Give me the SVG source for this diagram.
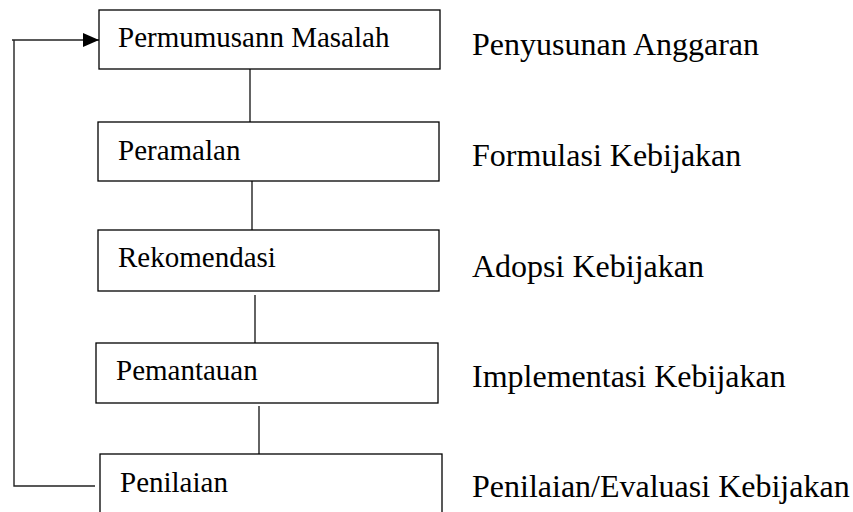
<svg xmlns="http://www.w3.org/2000/svg" width="853" height="512" viewBox="0 0 853 512">
<style>
.box{fill:#fff;stroke:#000;stroke-width:1.3}
.lbl{font-family:"Liberation Serif","Times New Roman",serif;font-size:29px;fill:#000}
.side{font-family:"Liberation Serif","Times New Roman",serif;font-size:32px;fill:#000}
.conn{fill:none;stroke:#222;stroke-width:1.4}
</style>
<defs>
<marker id="arr" markerWidth="16" markerHeight="14" refX="16" refY="7" orient="auto" markerUnits="userSpaceOnUse">
<path d="M0,0 L16,7 L0,14 Z" fill="#000"/>
</marker>
</defs>
<rect width="853" height="512" fill="#fff"/>
<g id="connectors">
<line class="conn" x1="250" y1="69" x2="250" y2="122"/>
<line class="conn" x1="252" y1="181" x2="252" y2="230"/>
<line class="conn" x1="255" y1="295" x2="255" y2="343"/>
<line class="conn" x1="259" y1="406" x2="259" y2="454"/>
<polyline class="conn" points="95,486 14,486 14,40"/>
<line class="conn" x1="12" y1="40" x2="99" y2="40" marker-end="url(#arr)"/>
</g>
<g id="n1"><rect class="box" x="99" y="10" width="341" height="59"/><text class="lbl" x="118" y="47">Permumusann Masalah</text></g>
<g id="n2"><rect class="box" x="98" y="122" width="341" height="59"/><text class="lbl" x="118" y="160">Peramalan</text></g>
<g id="n3"><rect class="box" x="98" y="230" width="341" height="61"/><text class="lbl" x="118" y="267">Rekomendasi</text></g>
<g id="n4"><rect class="box" x="96" y="343" width="342" height="60"/><text class="lbl" x="116" y="380">Pemantauan</text></g>
<g id="n5"><rect class="box" x="100" y="454" width="342" height="70"/><text class="lbl" x="120" y="492">Penilaian</text></g>
<g id="side">
<text class="side" x="472" y="55">Penyusunan Anggaran</text>
<text class="side" x="472" y="166">Formulasi Kebijakan</text>
<text class="side" x="472" y="277">Adopsi Kebijakan</text>
<text class="side" x="472" y="387">Implementasi Kebijakan</text>
<text class="side" x="472" y="497">Penilaian/Evaluasi Kebijakan</text>
</g>
</svg>
